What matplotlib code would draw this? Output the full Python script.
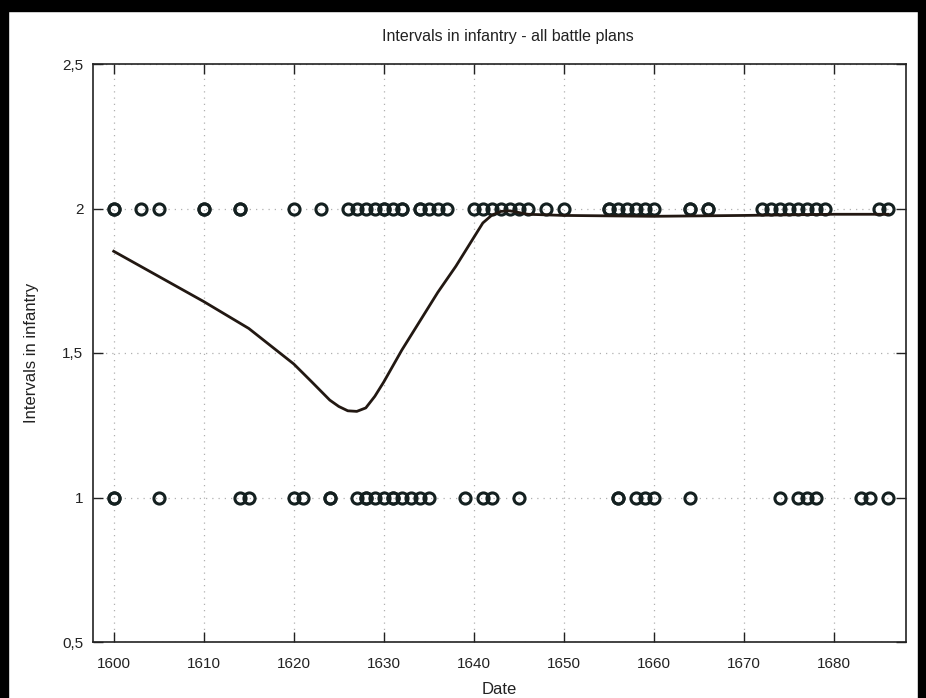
import matplotlib
matplotlib.use("Agg")
import matplotlib.pyplot as plt
from matplotlib.patches import Rectangle
from matplotlib.ticker import FixedLocator, FixedFormatter

# battle plans with 2 intervals in infantry
years_two = [1600, 1600, 1603, 1605, 1610, 1610, 1614, 1614, 1620, 1623,
             1626, 1627, 1628, 1629, 1630, 1630, 1631, 1632, 1632,
             1634, 1634, 1635, 1636, 1637,
             1640, 1641, 1642, 1643, 1644, 1645, 1646, 1648, 1650,
             1655, 1655, 1656, 1657, 1658, 1659, 1660, 1664, 1664, 1666, 1666,
             1672, 1673, 1674, 1675, 1676, 1677, 1678, 1679, 1685, 1686]

# battle plans with 1 interval
years_one = [1600, 1600, 1605, 1614, 1615, 1620, 1621, 1624, 1624,
             1627, 1628, 1628, 1629, 1630, 1631, 1631, 1632, 1633, 1634, 1635,
             1639, 1641, 1642, 1645, 1656, 1656, 1658, 1659, 1660, 1664,
             1674, 1676, 1677, 1678, 1683, 1684, 1686]

# smoothed trend
trend_x = [1600, 1605, 1610, 1615, 1620, 1622, 1624, 1625, 1626, 1627, 1628,
           1629, 1630, 1632, 1634, 1636, 1638, 1640, 1641, 1642, 1643, 1644,
           1646, 1650, 1660, 1670, 1680, 1686]
trend_y = [1.852, 1.765, 1.678, 1.585, 1.462, 1.40, 1.337, 1.315, 1.300, 1.298,
           1.31, 1.35, 1.40, 1.51, 1.61, 1.71, 1.80, 1.90, 1.95, 1.977, 1.99,
           1.992, 1.98, 1.976, 1.973, 1.976, 1.98, 1.98]

x_ticks = [1600, 1610, 1620, 1630, 1640, 1650, 1660, 1670, 1680]
y_ticks = [0.5, 1, 1.5, 2, 2.5]
y_labels = ["0,5", "1", "1,5", "2", "2,5"]

plt.rcParams['font.family'] = ['Liberation Sans', 'DejaVu Sans']

W, H = 926, 698
fig = plt.figure(figsize=(W / 100, H / 100), dpi=100)
fig.patch.set_facecolor('white')

# black frame strips round the picture
fig.patches.append(Rectangle((0, 0), 8 / W, 1, transform=fig.transFigure, color='black', zorder=0))
fig.patches.append(Rectangle((1 - 8 / W, 0), 8 / W, 1, transform=fig.transFigure, color='black', zorder=0))
fig.patches.append(Rectangle((0, 1 - 11 / H), 1, 11 / H, transform=fig.transFigure, color='black', zorder=0))

ax = fig.add_axes([93 / W, 1 - 642 / H, (906 - 93) / W, (642 - 64) / H])

ax.plot(years_two, [2] * len(years_two), 'o', ms=8, mfc='none', mec='#142020', mew=2.2, zorder=3)
ax.plot(years_one, [1] * len(years_one), 'o', ms=8, mfc='none', mec='#142020', mew=2.2, zorder=3)
ax.plot(trend_x, trend_y, '-', color='#221812', lw=2, zorder=4)

ax.set_xlim(1597.7, 1688)
ax.set_ylim(0.5, 2.5)
ax.xaxis.set_major_locator(FixedLocator(x_ticks))
ax.yaxis.set_major_locator(FixedLocator(y_ticks))
ax.yaxis.set_major_formatter(FixedFormatter(y_labels))
ax.tick_params(direction='in', length=7, width=1, top=True, right=True,
               labelsize=11, colors='#222222')
ax.tick_params(axis='x', pad=11)
ax.tick_params(axis='y', pad=7)
ax.grid(True, linestyle=(0, (1, 4)), color='#b0b0b0', lw=0.9)
for s in ax.spines.values():
    s.set_linewidth(1.2)
    s.set_color('#222222')

ax.set_xlabel('Date', fontsize=12, color='#222222', labelpad=8)
ax.set_ylabel('Intervals in infantry', fontsize=12, color='#222222', labelpad=17)
fig.text(508 / W, 1 - 36 / H, 'Intervals in infantry - all battle plans',
         ha='center', va='center', fontsize=11.5, color='#222222')

fig.savefig('out.png', dpi=100)
